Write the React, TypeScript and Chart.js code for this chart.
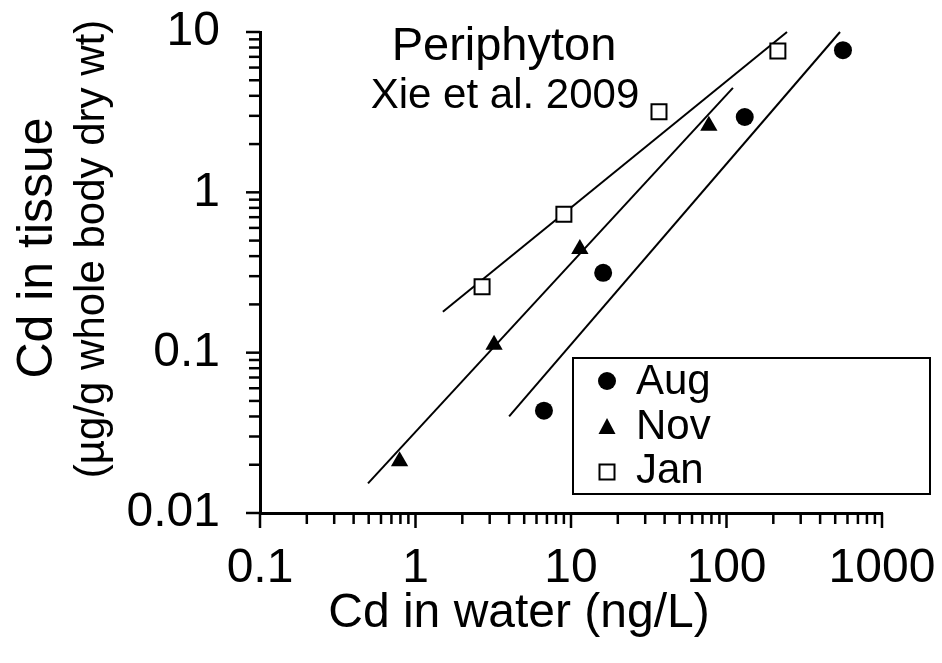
import React, { useEffect, useRef } from "react";
import { Chart, registerables } from "chart.js";

Chart.register(...registerables);

const FONT = "'Liberation Sans', Arial, Helvetica, sans-serif";

// ---- data ----
const seriesNames = ["Aug", "Nov", "Jan"];

const augX = [6.7, 16.1, 131, 561];
const augY = [0.0435, 0.315, 2.95, 7.7];
const novX = [0.79, 3.2, 11.4, 77];
const novY = [0.021, 0.112, 0.443, 2.6];
const janX = [2.68, 9.0, 36.8, 214];
const janY = [0.258, 0.73, 3.18, 7.6];

// regression lines (end points)
const augFitX = [4.0, 537];
const augFitY = [0.04, 10];
const novFitX = [0.495, 110];
const novFitY = [0.0153, 4.48];
const janFitX = [1.5, 245];
const janFitY = [0.18, 10];

const xMajorTicks = [0.1, 1, 10, 100, 1000];
const xTickLabels = ["0.1", "1", "10", "100", "1000"];
const yMajorTicks = [0.01, 0.1, 1, 10];
const yTickLabels = ["0.01", "0.1", "1", "10"];
const minorMultipliers = [2, 3, 4, 5, 6, 7, 8, 9];

const chartTitle = "Periphyton";
const chartSubtitle = "Xie et al. 2009";
const xTitle = "Cd in water (ng/L)";
const yTitle = "Cd in tissue";
const ySubtitle = "(\u00B5g/g whole body dry wt)";

// ---- helpers ----
const pts = (xs: number[], ys: number[]) => xs.map((x, i) => ({ x, y: ys[i] }));

function allTicks(majors: number[]) {
  const out: { value: number; major: boolean }[] = [];
  majors.forEach((m, i) => {
    out.push({ value: m, major: true });
    if (i < majors.length - 1) {
      minorMultipliers.forEach((k) => out.push({ value: m * k, major: false }));
    }
  });
  return out;
}

function labelFor(majors: number[], labels: string[]) {
  return (value: any) => {
    const v = Number(value);
    const i = majors.findIndex((m) => Math.abs(m - v) / m < 1e-6);
    return i >= 0 ? labels[i] : "";
  };
}

const zeroPad = (s: any) => {
  s.paddingTop = 0;
  s.paddingBottom = 0;
  s.paddingLeft = 0;
  s.paddingRight = 0;
};

const decorPlugin = {
  id: "decor",
  afterDraw(chart: any) {
    const ctx = chart.ctx as CanvasRenderingContext2D;
    const xs = chart.scales.x;
    const ys = chart.scales.y;
    const area = chart.chartArea;
    ctx.save();
    ctx.strokeStyle = "#000";
    ctx.fillStyle = "#000";
    ctx.lineCap = "butt";

    // tick marks
    ctx.lineWidth = 2.5;
    for (const t of xs.ticks) {
      const px = xs.getPixelForValue(t.value);
      const len = t.major ? 15 : 11;
      ctx.beginPath();
      ctx.moveTo(px, area.bottom);
      ctx.lineTo(px, area.bottom + len);
      ctx.stroke();
    }
    for (const t of ys.ticks) {
      const py = ys.getPixelForValue(t.value);
      const len = t.major ? 14 : 11;
      ctx.beginPath();
      ctx.moveTo(area.left - len, py);
      ctx.lineTo(area.left, py);
      ctx.stroke();
    }

    // titles
    ctx.textAlign = "center";
    ctx.textBaseline = "alphabetic";
    ctx.font = `47px ${FONT}`;
    ctx.fillText(chartTitle, 504, 60);
    ctx.font = `42px ${FONT}`;
    ctx.fillText(chartSubtitle, 505, 108);

    ctx.font = `48px ${FONT}`;
    ctx.fillText(xTitle, 519, 627);

    ctx.save();
    ctx.translate(52, 248);
    ctx.rotate(-Math.PI / 2);
    ctx.font = `50px ${FONT}`;
    ctx.fillText(yTitle, 0, 0);
    ctx.restore();

    ctx.save();
    ctx.translate(104, 249);
    ctx.rotate(-Math.PI / 2);
    ctx.font = `42px ${FONT}`;
    ctx.fillText(ySubtitle, 0, 0);
    ctx.restore();

    // legend
    ctx.lineWidth = 2;
    ctx.strokeRect(573, 358, 357, 136);
    const rows = [381, 427, 472];
    const mx = 607;
    ctx.beginPath();
    ctx.arc(mx, rows[0], 9, 0, Math.PI * 2);
    ctx.fill();
    ctx.beginPath();
    ctx.moveTo(mx, rows[1] - 9);
    ctx.lineTo(mx + 8.5, rows[1] + 7);
    ctx.lineTo(mx - 8.5, rows[1] + 7);
    ctx.closePath();
    ctx.fill();
    ctx.fillStyle = "#fff";
    ctx.fillRect(mx - 7.5, rows[2] - 7.5, 15, 15);
    ctx.fillStyle = "#000";
    ctx.lineWidth = 2;
    ctx.strokeRect(mx - 7.5, rows[2] - 7.5, 15, 15);

    ctx.font = `42px ${FONT}`;
    ctx.textAlign = "left";
    ctx.textBaseline = "alphabetic";
    const baselines = [394, 439, 483];
    seriesNames.forEach((n, i) => ctx.fillText(n, 636, baselines[i]));

    ctx.restore();
  },
};

export default function App() {
  const ref = useRef<HTMLCanvasElement | null>(null);

  useEffect(() => {
    if (!ref.current) return;
    const fitStyle = {
      showLine: true,
      pointRadius: 0,
      borderColor: "#000",
      borderWidth: 2,
      backgroundColor: "#000",
      order: 1,
      fill: false,
    };
    const chart = new Chart(ref.current, {
      type: "scatter",
      data: {
        datasets: [
          { label: "Aug fit", data: pts(augFitX, augFitY), ...fitStyle },
          { label: "Nov fit", data: pts(novFitX, novFitY), ...fitStyle },
          { label: "Jan fit", data: pts(janFitX, janFitY), ...fitStyle },
          {
            label: seriesNames[0],
            data: pts(augX, augY),
            pointStyle: "circle",
            pointRadius: 9,
            backgroundColor: "#000",
            borderColor: "#000",
            borderWidth: 0,
            order: 0,
          },
          {
            label: seriesNames[1],
            data: pts(novX, novY),
            pointStyle: "triangle",
            pointRadius: 10,
            backgroundColor: "#000",
            borderColor: "#000",
            borderWidth: 0,
            order: 0,
          },
          {
            label: seriesNames[2],
            data: pts(janX, janY),
            pointStyle: "rect",
            pointRadius: 10.6,
            backgroundColor: "#fff",
            borderColor: "#000",
            borderWidth: 2,
            order: 0,
          },
        ] as any,
      },
      options: {
        responsive: false,
        animation: false,
        devicePixelRatio: 1,
        clip: false,
        layout: { autoPadding: false, padding: { top: 32, right: 60, left: 0, bottom: 0 } },
        plugins: {
          legend: { display: false },
          tooltip: { enabled: false },
          title: { display: false },
        },
        scales: {
          x: {
            type: "logarithmic",
            min: 0.1,
            max: 1000,
            afterFit: (s: any) => {
              s.height = 150;
              zeroPad(s);
            },
            afterBuildTicks: (s: any) => {
              s.ticks = allTicks(xMajorTicks);
            },
            grid: { display: false, drawTicks: false },
            border: { display: true, color: "#000", width: 3 },
            ticks: {
              autoSkip: false,
              maxRotation: 0,
              minRotation: 0,
              padding: 27,
              color: "#000",
              font: { family: FONT, size: 48 },
              callback: labelFor(xMajorTicks, xTickLabels),
            },
          },
          y: {
            type: "logarithmic",
            min: 0.01,
            max: 10,
            afterFit: (s: any) => {
              s.width = 260;
              zeroPad(s);
            },
            afterBuildTicks: (s: any) => {
              s.ticks = allTicks(yMajorTicks);
            },
            grid: { display: false, drawTicks: false },
            border: { display: true, color: "#000", width: 3 },
            ticks: {
              autoSkip: false,
              padding: 40,
              color: "#000",
              font: { family: FONT, size: 48 },
              callback: labelFor(yMajorTicks, yTickLabels),
            },
          },
        },
      } as any,
      plugins: [decorPlugin],
    });
    return () => chart.destroy();
  }, []);

  return (
    <div style={{ position: "absolute", left: 0, top: 0, width: 942, height: 663, background: "#fff" }}>
      <canvas ref={ref} width={942} height={663} style={{ width: 942, height: 663 }} />
    </div>
  );
}
